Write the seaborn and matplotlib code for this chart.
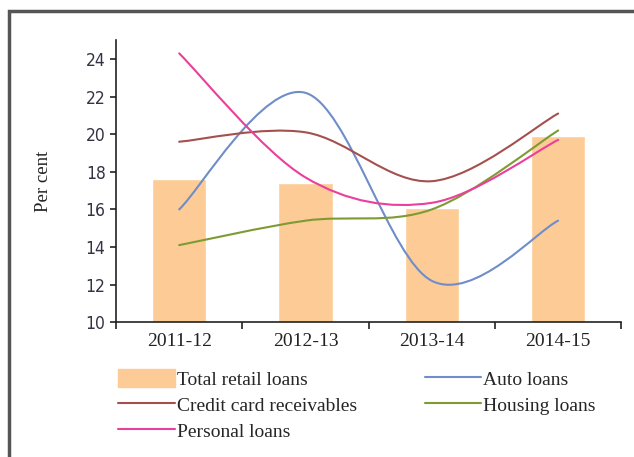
import numpy as np
import pandas as pd
import matplotlib
matplotlib.use("Agg")
import matplotlib.pyplot as plt
from matplotlib.path import Path
from matplotlib.patches import PathPatch, Patch, Rectangle
from matplotlib.lines import Line2D
import seaborn as sns

# data
years = ["2011-12", "2012-13", "2013-14", "2014-15"]
total_retail = [17.6, 17.4, 16.1, 19.9]
auto_loans = [16.0, 22.2, 12.2, 15.4]
credit_card = [19.6, 20.1, 17.5, 21.1]
housing_loans = [14.1, 15.4, 16.0, 20.2]
personal_loans = [24.3, 17.7, 16.35, 19.7]

sns.set_theme(style="white")
plt.rcParams["font.family"] = ["Liberation Serif", "DejaVu Serif"]

fig = plt.figure(figsize=(6.34, 4.57), dpi=100)
ax = fig.add_axes([0.183, 0.295, 0.797, 0.617])

df = pd.DataFrame({"year": years, "value": total_retail})
sns.barplot(data=df, x="year", y="value", color="#FDCB96", saturation=1,
            width=0.43, ax=ax, zorder=1)


def smooth_path(ys):
    # cubic bezier through the points, Excel-style smoothing
    pts = np.column_stack([np.arange(len(ys)), ys]).astype(float)
    ext = np.vstack([pts[0], pts, pts[-1]])
    verts = [tuple(pts[0])]
    codes = [Path.MOVETO]
    for i in range(len(pts) - 1):
        p0, p1, p2, p3 = ext[i], ext[i + 1], ext[i + 2], ext[i + 3]
        c1 = p1 + (p2 - p0) / 6
        c2 = p2 - (p3 - p1) / 6
        verts += [tuple(c1), tuple(c2), tuple(p2)]
        codes += [Path.CURVE4] * 3
    return Path(verts, codes)


series = [
    ("Auto loans", auto_loans, "#6F8DC8"),
    ("Credit card receivables", credit_card, "#A4504E"),
    ("Housing loans", housing_loans, "#7D9B32"),
    ("Personal loans", personal_loans, "#EA3F9A"),
]
handles = {}
for name, vals, col in series:
    ax.add_patch(PathPatch(smooth_path(vals), facecolor="none", edgecolor=col,
                           lw=1.5, zorder=3, capstyle="round"))
    handles[name] = Line2D([], [], color=col, lw=1.5)

ax.set_xlim(-0.5, 3.5)
ax.set_ylim(10, 25)
ax.set_yticks(range(10, 25, 2))
ax.set_xticks(range(4))
ax.set_xticklabels(years)
ax.set_xticks(np.arange(-0.5, 3.6, 1), minor=True)
ax.tick_params(axis="x", which="major", length=0, pad=8, labelsize=14,
               labelcolor="#222222")
ax.tick_params(axis="x", which="minor", length=5, width=1.2, color="#222222",
               direction="out", bottom=True)
ax.tick_params(axis="y", length=4, width=1.2, color="#222222", direction="out",
               left=True, labelsize=12.5, labelcolor="#333344")
for lab in ax.get_yticklabels():
    lab.set_family(["Liberation Sans Narrow", "DejaVu Sans"])
    lab.set_stretch("condensed")
ax.set_xlabel("")
ax.set_ylabel("Per cent", fontsize=13.5, labelpad=24, color="#222222")
for side in ["top", "right"]:
    ax.spines[side].set_visible(False)
for side in ["left", "bottom"]:
    ax.spines[side].set_color("#222222")
    ax.spines[side].set_linewidth(1.2)

leg_handles = [Patch(color="#FDCB96"), handles["Credit card receivables"],
               handles["Personal loans"], handles["Auto loans"],
               handles["Housing loans"]]
leg_labels = ["Total retail loans", "Credit card receivables", "Personal loans",
              "Auto loans", "Housing loans"]
fig.legend(leg_handles, leg_labels, ncol=2, frameon=False, fontsize=14,
           loc="upper left", bbox_to_anchor=(0.165, 0.222),
           handlelength=2.9, handletextpad=0.1, columnspacing=3.5,
           labelspacing=0.35, handleheight=1.0, borderpad=0.2)

# outer frame of the original figure box (runs off the image)
fig.patches.append(Rectangle((0.014, -0.2), 1.2, 1.175, transform=fig.transFigure,
                             fill=False, edgecolor="#555555", lw=2.5,
                             clip_on=False))

fig.savefig("out.png", dpi=100)
